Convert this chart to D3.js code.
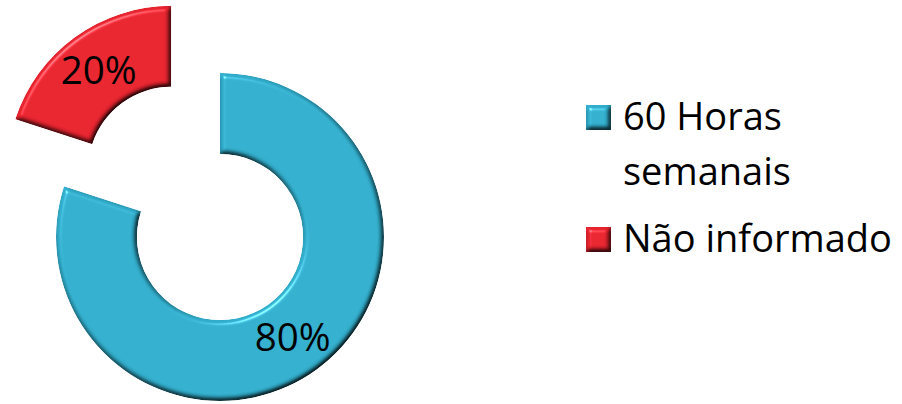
<!DOCTYPE html>
<html>
<head>
<meta charset="utf-8">
<script src="https://cdn.jsdelivr.net/npm/d3@7"></script>
<style>
  body { margin: 0; background: #fff; }
  svg { display: block; font-family: "Open Sans", sans-serif; }
</style>
</head>
<body>
<svg id="chart" width="902" height="404"></svg>
<script>
var categories = ["60 Horas semanais", "Não informado"];
var legendLines = [["60 Horas", "semanais"], ["Não informado"]];
var values = [80, 20];
var valueLabels = ["80%", "20%"];
var colors = ["#31acca", "#e4232e"];
var explode = [0, 83];

var svg = d3.select("#chart");
var cx = 220, cy = 237, rOuter = 164, rInner = 83;

// bevel look
var defs = svg.append("defs");
var f = defs.append("filter").attr("id", "bevel")
    .attr("color-interpolation-filters", "sRGB")
    .attr("x", "-10%").attr("y", "-10%").attr("width", "120%").attr("height", "120%");
f.append("feGaussianBlur").attr("in", "SourceAlpha").attr("stdDeviation", 2.5).attr("result", "blur");
var spec = f.append("feSpecularLighting").attr("in", "blur")
    .attr("surfaceScale", 4).attr("specularConstant", 0.8)
    .attr("specularExponent", 40).attr("lighting-color", "#ffffff").attr("result", "spec");
spec.append("feDistantLight").attr("azimuth", 235).attr("elevation", 45);
f.append("feComposite").attr("in", "spec").attr("in2", "SourceAlpha").attr("operator", "in").attr("result", "specOut");
var diff = f.append("feDiffuseLighting").attr("in", "blur")
    .attr("surfaceScale", 4).attr("diffuseConstant", 1.155)
    .attr("lighting-color", "#ffffff").attr("result", "diff");
diff.append("feDistantLight").attr("azimuth", 235).attr("elevation", 60);
f.append("feComposite").attr("in", "SourceGraphic").attr("in2", "diff")
    .attr("operator", "arithmetic").attr("k1", 1).attr("k2", 0).attr("k3", 0).attr("k4", 0).attr("result", "lit");
f.append("feComposite").attr("in", "lit").attr("in2", "specOut")
    .attr("operator", "arithmetic").attr("k1", 0).attr("k2", 1).attr("k3", 0.5).attr("k4", 0).attr("result", "out");
f.append("feComposite").attr("in", "out").attr("in2", "SourceAlpha").attr("operator", "in");

var pie = d3.pie().sort(null).value(function(d) { return d; });
var arcs = pie(values);
var arc = d3.arc().innerRadius(rInner).outerRadius(rOuter);

var g = svg.append("g").attr("transform", "translate(" + cx + "," + cy + ")");

var slice = g.selectAll(".slice")
    .data(arcs)
    .enter().append("g")
    .attr("class", "slice")
    .attr("transform", function(d, i) {
        var a = (d.startAngle + d.endAngle) / 2;
        return "translate(" + (Math.sin(a) * explode[i]) + "," + (-Math.cos(a) * explode[i]) + ")";
    });

slice.append("path")
    .attr("d", arc)
    .style("fill", function(d, i) { return colors[i]; })
    .attr("filter", "url(#bevel)");

slice.append("text")
    .attr("transform", function(d) { return "translate(" + arc.centroid(d) + ")"; })
    .attr("dy", "0.36em")
    .style("text-anchor", "middle")
    .style("font-size", "38.5px")
    .style("fill", "#000")
    .text(function(d, i) { return valueLabels[i]; });

// legend
var legendY = [105, 227];
var legend = svg.selectAll(".legend")
    .data(categories)
    .enter().append("g")
    .attr("class", "legend")
    .attr("transform", function(d, i) { return "translate(586," + legendY[i] + ")"; });

legend.append("rect")
    .attr("width", 25)
    .attr("height", 25)
    .style("fill", function(d, i) { return colors[i]; })
    .attr("filter", "url(#bevel)");

legend.each(function(d, i) {
    var t = d3.select(this).append("text")
        .attr("x", 37)
        .attr("y", 25)
        .style("font-size", "38px")
        .style("fill", "#000");
    legendLines[i].forEach(function(line, j) {
        t.append("tspan").attr("x", 37).attr("dy", j === 0 ? 0 : 55).text(line);
    });
});
</script>
</body>
</html>
